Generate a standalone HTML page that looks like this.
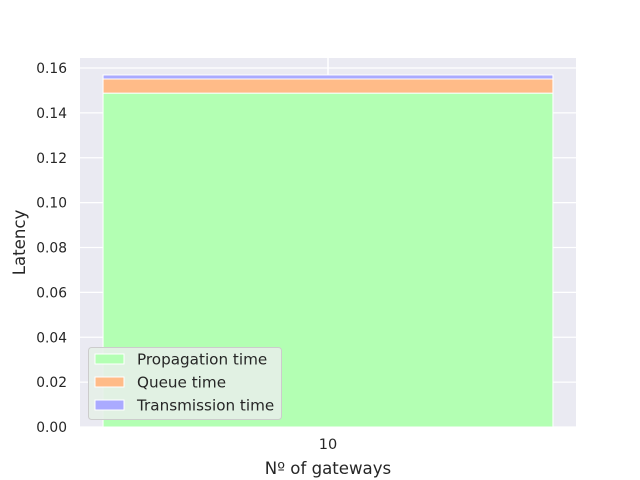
<!DOCTYPE html>
<html><head><meta charset="utf-8"><style>body{margin:0;background:#fff}svg{display:block;font-family:"DejaVu Sans","Liberation Sans",sans-serif}</style></head>
<body>
<svg id="c" width="640" height="480"></svg>
<script>
const categories=["10"];
const propagation=[0.1488];
const queue=[0.0063];
const transmission=[0.0018];
const yTicks=[0,0.02,0.04,0.06,0.08,0.10,0.12,0.14,0.16];
const yTickLabels=["0.00","0.02","0.04","0.06","0.08","0.10","0.12","0.14","0.16"];
const NS="http://www.w3.org/2000/svg";
const svg=document.getElementById('c');
const L=80,R=576,T=58,B=427;
const y=v=>B-v*(B-68)/0.16;
const xc=i=>L+(R-L)*(i+0.5)/categories.length;
function el(t,a,p){const e=document.createElementNS(NS,t);for(const k in a)e.setAttribute(k,a[k]);(p||svg).appendChild(e);return e;}
const bg=el('rect',{x:L,y:T,width:R-L,height:B-T,fill:'#eaeaf2'});


yTicks.forEach((v,i)=>{
 const g=el('line',{x1:L,x2:R,y1:y(v),y2:y(v),stroke:'#fff','stroke-width':1.2});
 
 
 const t=el('text',{x:L-13,y:y(v)+5,'text-anchor':'end','font-size':13.8,fill:'#262626'});
 t.textContent=yTickLabels[i];
 
 
});
categories.forEach((c,i)=>{
 const g=el('line',{x1:xc(i),x2:xc(i),y1:T,y2:B,stroke:'#fff','stroke-width':1.5});
 
 
 const t=el('text',{x:xc(i),y:B+22,'text-anchor':'middle','font-size':14.5,fill:'#262626'});
 t.textContent=c;
 
 
 const w=(R-L)*0.907/categories.length, x0=xc(i)-w/2;
 let base=0;
 [[propagation,'#b3ffb3','bar-propagation'],[queue,'#ffbb88','bar-queue'],[transmission,'#aaaaff','bar-transmission']].forEach(([arr,col,nm])=>{
  const r=el('rect',{x:x0,y:y(base+arr[i]),width:w,height:y(base)-y(base+arr[i]),fill:col,stroke:'#fff','stroke-width':1});
  
  
  base+=arr[i];
 });
});
const xt=el('text',{x:(L+R)/2,y:474,'text-anchor':'middle','font-size':16.6,fill:'#262626'});
xt.textContent='Nº of gateways';


const yt=el('text',{x:0,y:0,'text-anchor':'middle','font-size':16.6,fill:'#262626',transform:'translate(25,'+((T+B)/2)+') rotate(-90)'});
yt.textContent='Latency';


const lg=el('g',{});


el('rect',{x:88.5,y:347.5,width:193,height:72,rx:3,fill:'#e5efe8','fill-opacity':0.9,stroke:'#cccccc'},lg);
[['Propagation time','#b3ffb3'],['Queue time','#ffbb88'],['Transmission time','#aaaaff']].forEach((d,i)=>{
 const yy=359+i*23;
 const s=el('rect',{x:95,y:yy-5,width:29,height:10,fill:d[1],stroke:'#fff'},lg);
 
 
 const t=el('text',{x:137,y:yy+5.5,'font-size':15.2,fill:'#262626'},lg);
 t.textContent=d[0];
 
 
});
</script>
</body></html>
